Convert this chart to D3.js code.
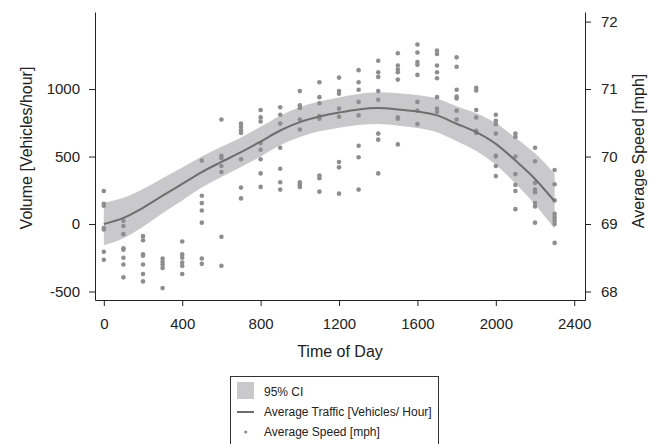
<!DOCTYPE html>
<html>
<head>
<meta charset="utf-8">
<script src="https://cdn.jsdelivr.net/npm/d3@7"></script>
<style>
  body { margin: 0; background: #fff; }
  svg { display: block; font-family: "Liberation Sans", Arial, sans-serif; }
  .axis path, .axis line { stroke: #222; }
  .axis text { fill: #222; font-size: 15px; }
</style>
</head>
<body>
<svg width="650" height="444"></svg>
<script>
  // hours of day (hhmm)
  var times = [0, 100, 200, 300, 400, 500, 600, 700, 800, 900, 1000, 1100,
    1200, 1300, 1400, 1500, 1600, 1700, 1800, 1900, 2000, 2100, 2200, 2300];

  // average traffic [vehicles/hour] and its 95% CI
  var trafficMean = [0, 45, 120, 210, 297, 385, 460, 532, 611, 693, 755, 797,
    826, 849, 859, 849, 834, 805, 743, 681, 594, 470, 334, 168];
  var ciUpper = [158, 195, 260, 340, 419, 500, 572, 642, 721, 803, 865, 907,
    938, 964, 977, 969, 956, 930, 873, 821, 749, 640, 524, 373];
  var ciLower = [-158, -105, -20, 80, 175, 270, 348, 422, 501, 583, 645, 687,
    714, 734, 741, 729, 712, 680, 613, 541, 439, 300, 144, -37];

  // average speed [mph], several days per hour
  var speeds = [
    [69.49, 69.30, 69.27, 68.94, 68.92, 68.59, 68.47],
    [69.05, 68.97, 68.85, 68.64, 68.62, 68.50, 68.40, 68.21],
    [68.82, 68.76, 68.55, 68.53, 68.40, 68.26, 68.15],
    [68.49, 68.44, 68.40, 68.35, 68.05],
    [68.74, 68.55, 68.50, 68.43, 68.38, 68.26],
    [69.94, 69.42, 69.31, 69.20, 69.02, 68.49, 68.41],
    [70.55, 70.01, 69.98, 69.86, 69.77, 68.81, 68.38],
    [70.49, 70.44, 70.39, 70.35, 69.96, 69.54, 69.38],
    [70.69, 70.58, 70.52, 70.20, 70.10, 69.96, 69.75, 69.55],
    [70.73, 70.62, 70.49, 70.13, 69.82, 69.62, 69.51],
    [70.97, 70.76, 70.72, 70.55, 70.40, 69.62, 69.58, 69.55],
    [71.10, 70.88, 70.79, 70.60, 70.56, 69.72, 69.68, 69.48],
    [71.17, 70.97, 70.93, 70.71, 70.59, 69.92, 69.84, 69.45],
    [71.28, 71.10, 70.99, 70.81, 70.61, 70.16, 69.99, 69.51],
    [71.42, 71.25, 71.18, 70.97, 70.84, 70.34, 70.25, 69.75],
    [71.53, 71.35, 71.29, 71.25, 71.14, 70.58, 70.56, 70.18],
    [71.66, 71.54, 71.40, 71.36, 71.21, 70.81, 70.68, 70.48],
    [71.57, 71.52, 71.35, 71.25, 71.16, 70.88, 70.71, 70.66],
    [71.47, 71.33, 70.99, 70.89, 70.86, 70.68, 70.55],
    [71.02, 70.98, 70.69, 70.58, 70.38, 70.35],
    [70.62, 70.53, 70.48, 70.34, 70.01, 70.00, 69.86, 69.71],
    [70.34, 70.29, 70.00, 69.74, 69.58, 69.49, 69.22],
    [70.13, 69.93, 69.61, 69.51, 69.47, 69.31, 69.26, 69.02],
    [69.80, 69.59, 69.35, 69.15, 69.10, 69.05, 69.00, 68.72]
  ];

  var xTicks = [0, 400, 800, 1200, 1600, 2000, 2400];
  var volTicks = [-500, 0, 500, 1000];
  var speedTicks = [68, 69, 70, 71, 72];
  var legendItems = ['95% CI', 'Average Traffic [Vehicles/ Hour]', 'Average Speed [mph]'];

  var bandColor = '#c9c9cb';
  var lineColor = '#6e6e6e';
  var dotColor = '#8e8e91';

  var svg = d3.select('svg');

  var x = d3.scaleLinear().domain([-45, 2455]).range([95, 585]);
  var yVol = d3.scaleLinear().domain([-563, 1571]).range([300, 12]);
  var ySpd = d3.scaleLinear().domain([67.874, 72.142]).range([300, 12]);

  // plain numbers, hyphen minus
  var fmt = function (d) { return String(d); };

  var rows = times.map(function (t, i) {
    return { t: t, mean: trafficMean[i], lo: ciLower[i], hi: ciUpper[i] };
  });

  // CI band
  svg.append('path')
    .datum(rows)
    .attr('fill', bandColor)
    .attr('d', d3.area()
      .curve(d3.curveMonotoneX)
      .x(function (d) { return x(d.t); })
      .y0(function (d) { return yVol(d.lo); })
      .y1(function (d) { return yVol(d.hi); }));

  // speed points
  var pts = [];
  speeds.forEach(function (arr, i) {
    arr.forEach(function (s) { pts.push({ t: times[i], s: s }); });
  });
  svg.append('g').selectAll('circle')
    .data(pts)
    .enter()
    .append('circle')
    .attr('cx', function (d) { return x(d.t); })
    .attr('cy', function (d) { return ySpd(d.s); })
    .attr('r', 2.3)
    .attr('fill', dotColor);

  // mean traffic line
  svg.append('path')
    .datum(rows)
    .attr('fill', 'none')
    .attr('stroke', lineColor)
    .attr('stroke-width', 2)
    .attr('d', d3.line()
      .curve(d3.curveMonotoneX)
      .x(function (d) { return x(d.t); })
      .y(function (d) { return yVol(d.mean); }));

  // axes
  svg.append('g')
    .attr('class', 'axis')
    .attr('transform', 'translate(0,300)')
    .call(d3.axisBottom(x).tickValues(xTicks).tickFormat(fmt).tickSize(6).tickPadding(12).tickSizeOuter(0));
  svg.append('g')
    .attr('class', 'axis')
    .attr('transform', 'translate(95,0)')
    .call(d3.axisLeft(yVol).tickValues(volTicks).tickFormat(fmt).tickSize(6).tickPadding(9).tickSizeOuter(0));
  svg.append('g')
    .attr('class', 'axis')
    .attr('transform', 'translate(585,0)')
    .call(d3.axisRight(ySpd).tickValues(speedTicks).tickFormat(fmt).tickSize(6).tickPadding(10).tickSizeOuter(0));

  // axis titles
  svg.append('text')
    .attr('x', 340).attr('y', 357)
    .attr('text-anchor', 'middle')
    .attr('font-size', 16)
    .attr('fill', '#222')
    .text('Time of Day');
  svg.append('text')
    .attr('transform', 'translate(32,148) rotate(-90)')
    .attr('text-anchor', 'middle')
    .attr('font-size', 16)
    .attr('fill', '#222')
    .text('Volume [Vehicles/hour]');
  svg.append('text')
    .attr('transform', 'translate(644,151) rotate(-90)')
    .attr('text-anchor', 'middle')
    .attr('font-size', 16)
    .attr('fill', '#222')
    .text('Average Speed [mph]');

  // legend
  var lg = svg.append('g').attr('transform', 'translate(230,376)');
  lg.append('rect')
    .attr('x', 0.5).attr('y', 0.5)
    .attr('width', 208).attr('height', 72)
    .attr('fill', '#fff')
    .attr('stroke', '#333');
  lg.append('rect')
    .attr('x', 7).attr('y', 6)
    .attr('width', 17).attr('height', 17)
    .attr('fill', bandColor);
  lg.append('line')
    .attr('x1', 7).attr('x2', 24)
    .attr('y1', 36).attr('y2', 36)
    .attr('stroke', lineColor)
    .attr('stroke-width', 2);
  lg.append('circle')
    .attr('cx', 15.7).attr('cy', 56)
    .attr('r', 1.6)
    .attr('fill', dotColor);
  lg.selectAll('text.item')
    .data(legendItems)
    .enter()
    .append('text')
    .attr('class', 'item')
    .attr('x', 34)
    .attr('y', function (d, i) { return 16 + i * 20; })
    .attr('dy', '0.35em')
    .attr('font-size', 12)
    .attr('fill', '#222')
    .text(function (d) { return d; });
</script>
</body>
</html>
